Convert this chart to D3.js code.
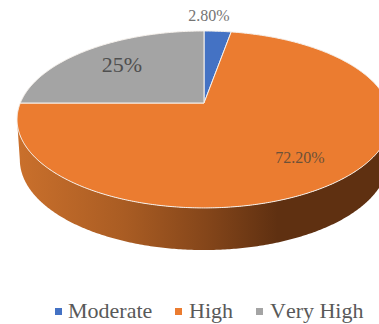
<!DOCTYPE html>
<html>
<head>
<meta charset="utf-8">
<script src="https://cdn.jsdelivr.net/npm/d3@7"></script>
<style>
  html, body { margin: 0; padding: 0; background: #fff; }
  svg { display: block; }
  text { font-family: "Liberation Serif", serif; font-kerning: none; }
</style>
</head>
<body>
<svg id="chart" width="379" height="324"></svg>
<script>
// Risk level shares, in percent
const categories = ["Moderate", "High", "Very High"];
const values = [2.8, 72.2, 25];
const valueLabels = ["2.80%", "72.20%", "25%"];
const colors = ["#4472C4", "#EB7C30", "#A4A4A4"];

const svg = d3.select("#chart");

// Tilted disc: perspective projection of a unit circle
const cx = 204, cy = 103, rx = 183.7, ry = 85.4, tilt = 0.186;

function project(angle, scaleX = 1, scaleY = 1, dy = 0) {
  const u = Math.sin(angle), v = -Math.cos(angle);
  const w = 1 - tilt * v;
  return [cx + scaleX * rx * u / w, cy + dy + scaleY * ry * v / w];
}

const pie = d3.pie().value(d => d).sort(null);
const arcs = pie(values);
const line = d3.line();

function samples(a0, a1, step = 0.01) {
  const n = Math.max(2, Math.ceil((a1 - a0) / step));
  return d3.range(n + 1).map(i => a0 + (a1 - a0) * i / n);
}

// Side wall between the disc's widest points, darkening to the right
const defs = svg.append("defs");
const wallStops = [[0, "#CA702C"], [0.30, "#A95C23"], [0.52, "#85461A"], [0.72, "#5F3011"], [1, "#5F3011"]];
const grad = defs.append("linearGradient")
  .attr("id", "wallShade")
  .attr("gradientUnits", "userSpaceOnUse")
  .attr("x1", 17).attr("x2", 379).attr("y1", 0).attr("y2", 0);
grad.selectAll("stop").data(wallStops).join("stop")
  .attr("offset", d => d[0]).attr("stop-color", d => d[1]);

const wallAngles = samples(Math.PI * 0.56, Math.PI * 1.44);
const wallPts = wallAngles.map(a => project(a))
  .concat(wallAngles.slice().reverse().map(a => project(a, 0.985, 1.02, 40)));
svg.append("path")
  .attr("d", line(wallPts) + "Z")
  .attr("fill", "url(#wallShade)");

// Top face slices
svg.append("g").selectAll("path").data(arcs).join("path")
  .attr("d", d => line([[cx, cy]].concat(samples(d.startAngle, d.endAngle).map(a => project(a)))) + "Z")
  .attr("fill", (d, i) => colors[i])
  .attr("stroke", "#F6F1EC")
  .attr("stroke-width", 1)
  .attr("stroke-linejoin", "round");

// Value labels
const labelSpots = [[209, 20.5, 16, "#747474"], [300, 162.5, 16, "#6B5138"], [122, 71.5, 22, "#4F4F4F"]];
svg.append("g").selectAll("text").data(valueLabels).join("text")
  .attr("x", (d, i) => labelSpots[i][0])
  .attr("y", (d, i) => labelSpots[i][1])
  .attr("font-size", (d, i) => labelSpots[i][2])
  .attr("fill", (d, i) => labelSpots[i][3])
  .attr("text-anchor", "middle")
  .text(d => d);

// Legend
const legendX = [55, 175, 256];
const legendTextGap = [13, 14, 14];
const legend = svg.append("g").selectAll("g").data(categories).join("g")
  .attr("transform", (d, i) => `translate(${legendX[i]},308)`);
legend.append("rect")
  .attr("width", 7).attr("height", 7)
  .attr("fill", (d, i) => colors[i]);
legend.append("text")
  .attr("x", (d, i) => legendTextGap[i]).attr("y", 10)
  .attr("font-size", 22)
  .attr("fill", "#595959")
  .text(d => d);
</script>
</body>
</html>
